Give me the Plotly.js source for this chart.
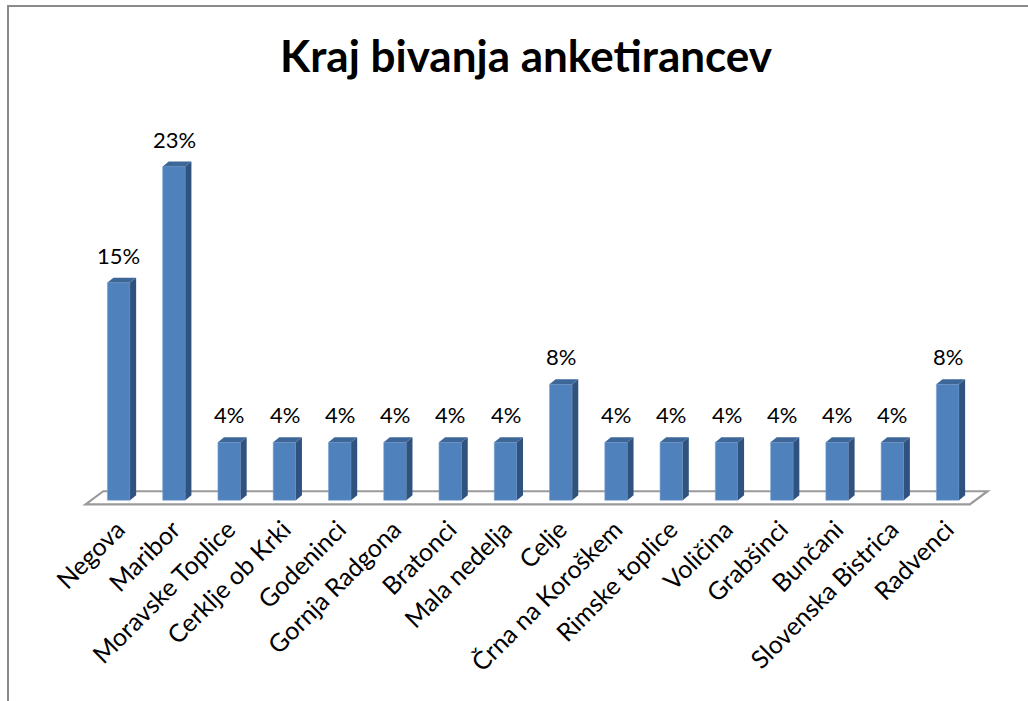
<!DOCTYPE html>
<html>
<head>
<meta charset="utf-8">
<script src="https://cdn.plot.ly/plotly-3.0.1.min.js"></script>
<style>
html,body{margin:0;padding:0;background:#fff;}
#wrap{position:relative;width:1028px;height:701px;}
#chart{width:1028px;height:701px;}
#frame{position:absolute;left:7px;top:5px;right:-5px;bottom:-5px;border-left:2px solid #8a8a8a;border-top:2px solid #8a8a8a;pointer-events:none;}
</style>
</head>
<body>
<div id="wrap"><div id="chart"></div><div id="frame"></div></div>
<script>
const categories = ["Negova","Maribor","Moravske Toplice","Cerklje ob Krki","Godeninci","Gornja Radgona","Bratonci","Mala nedelja","Celje","Črna na Koroškem","Rimske toplice","Voličina","Grabšinci","Bunčani","Slovenska Bistrica","Radvenci"];
const values = [15,23,4,4,4,4,4,4,8,4,4,4,4,4,4,8];
const labels = ["15%","23%","4%","4%","4%","4%","4%","4%","8%","4%","4%","4%","4%","4%","4%","8%"];

const n = categories.length;
const idx = categories.map((_, i) => i);
const W = 0.41;     // bar width (category units)
const DX = 0.11;    // depth offset x
const DY = 0.34;    // depth offset y
const FRONT = '#4F81BD', SIDE = '#30527F', TOP = '#3D6699';
const FONT = 'Lato, "Noto Sans", sans-serif';

const shapes = [];
// floor
shapes.push({
  type: 'path', xref: 'x', yref: 'y', layer: 'below',
  path: `M ${-0.6} ${-0.28} L ${n - 0.6} ${-0.28} L ${n - 0.28} ${0.62} L ${-0.28} ${0.62} Z`,
  fillcolor: '#ffffff', line: {color: '#9a9a9a', width: 2.2}
});
values.forEach((v, i) => {
  const r = i + W / 2, l = i - W / 2;
  shapes.push({
    type: 'path', xref: 'x', yref: 'y', layer: 'above',
    path: `M ${r} 0 L ${r + DX} ${DY} L ${r + DX} ${v + DY} L ${r} ${v} Z`,
    fillcolor: SIDE, line: {width: 0}
  });
  shapes.push({
    type: 'path', xref: 'x', yref: 'y', layer: 'above',
    path: `M ${l} ${v} L ${l + DX} ${v + DY} L ${r + DX} ${v + DY} L ${r} ${v} Z`,
    fillcolor: TOP, line: {width: 0}
  });
});

const annotations = values.map((v, i) => ({
  x: i, y: v, xref: 'x', yref: 'y', text: labels[i], showarrow: false,
  yanchor: 'bottom', xanchor: 'center', yshift: 12,
  font: {family: FONT, size: 22, color: '#000'}
}));

const trace = {
  type: 'bar', x: idx, y: values, width: W,
  marker: {color: FRONT, line: {color: '#7da2d2', width: 0.6}},
  hoverinfo: 'skip'
};

const layout = {
  width: 1028, height: 701,
  paper_bgcolor: '#fff', plot_bgcolor: '#fff',
  margin: {l: 68.7, r: 24.7, t: 65, b: 179.25, pad: 0},
  showlegend: false,
  title: {
    text: '<b>Kraj bivanja anketirancev</b>',
    x: 0.5117, xref: 'container', xanchor: 'center',
    y: 0.9187, yref: 'container', yanchor: 'middle',
    font: {family: FONT, size: 44, color: '#000'}
  },
  xaxis: {
    range: [-0.9, 16], tickmode: 'array', tickvals: idx, ticktext: categories,
    tickangle: -45, showgrid: false, zeroline: false, showline: false, ticks: '',
    ticklabelstandoff: -13, ticklabelshift: -1,
    tickfont: {family: FONT, size: 25, color: '#000'}, fixedrange: true
  },
  yaxis: {
    range: [-1.5, 30], showgrid: false, zeroline: false, showline: false,
    showticklabels: false, ticks: '', fixedrange: true
  },
  shapes: shapes,
  annotations: annotations
};

Plotly.newPlot('chart', [trace], layout, {displayModeBar: false, staticPlot: true});
</script>
</body>
</html>
